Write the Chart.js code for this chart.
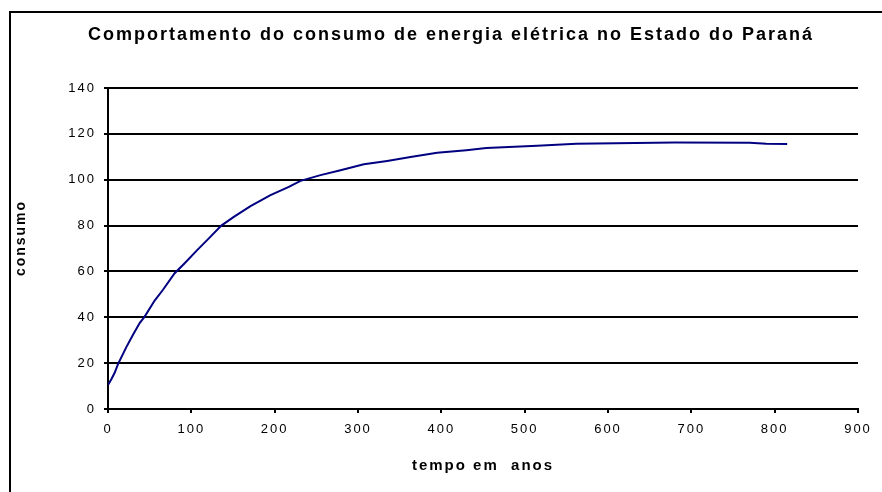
<!DOCTYPE html>
<html>
<head>
    <title>Consumo de energia elétrica - Paraná</title>
    <script src="https://cdn.jsdelivr.net/npm/chart.js@4.4.0/dist/chart.umd.min.js"></script>
    <style>
        body { margin: 0; background: #fff; }
    </style>
</head>
<body>
    <canvas id="consumoChart" width="882" height="492"></canvas>

    <script>
        // dados
        const titulo = 'Comportamento do consumo de energia elétrica no Estado do Paraná';
        const rotuloX = 'tempo em  anos';
        const rotuloY = 'consumo';
        const anos = [0, 4, 8, 12, 22, 30, 38, 44, 56, 66, 80, 92, 107, 121, 136, 151, 171, 195, 217, 231, 255, 279, 307, 335, 363, 395, 430, 454, 515, 562, 680, 770, 790, 815];
        const consumo = [10.5, 13, 15.8, 19.6, 27, 32.4, 37.5, 40.3, 47.3, 52, 59.2, 63.6, 69.3, 74.4, 80, 83.8, 88.5, 93.3, 96.9, 99.5, 102, 104.1, 106.7, 108.2, 109.9, 111.8, 112.9, 113.8, 114.8, 115.7, 116.2, 116.1, 115.7, 115.6];
        const ticksX = [0, 100, 200, 300, 400, 500, 600, 700, 800, 900];
        const ticksY = [0, 20, 40, 60, 80, 100, 120, 140];

        const fonte = '"Liberation Sans", Arial, sans-serif';

        // moldura externa, espacamento das letras e titulo vertical
        const moldura = {
            id: 'moldura',
            beforeDraw(chart) {
                chart.ctx.letterSpacing = '2px';
            },
            afterDraw(chart) {
                const ctx = chart.ctx;
                ctx.save();
                ctx.strokeStyle = '#000';
                ctx.lineWidth = 2;
                ctx.strokeRect(10, 12, 900, 500);
                ctx.translate(21, 238);
                ctx.rotate(-Math.PI / 2);
                ctx.font = 'bold 14px ' + fonte;
                ctx.textAlign = 'center';
                ctx.textBaseline = 'middle';
                ctx.fillStyle = '#000';
                ctx.fillText(rotuloY, 0, 0);
                ctx.restore();
            }
        };

        const pontos = anos.map((a, i) => ({ x: a, y: consumo[i] }));

        const ctx = document.getElementById('consumoChart').getContext('2d');
        const chart = new Chart(ctx, {
            type: 'line',
            data: {
                datasets: [{
                    label: rotuloY,
                    data: pontos,
                    borderColor: '#000080',
                    borderWidth: 2,
                    pointRadius: 0,
                    tension: 0,
                    fill: false
                }]
            },
            options: {
                responsive: false,
                animation: false,
                devicePixelRatio: 1,
                layout: { padding: { left: 44, right: 24, top: 0, bottom: 0 } },
                plugins: {
                    legend: { display: false },
                    tooltip: { enabled: false },
                    title: {
                        display: true,
                        text: titulo,
                        color: '#000',
                        font: { family: fonte, size: 18, weight: 'bold' },
                        padding: { top: 24.2, bottom: 42.2 }
                    }
                },
                scales: {
                    x: {
                        type: 'linear',
                        min: 0,
                        max: 900,
                        afterFit: s => { s.height = 83; },
                        afterBuildTicks: s => { s.ticks = ticksX.map(v => ({ value: v })); },
                        grid: { drawOnChartArea: false, drawTicks: true, tickLength: 4, color: '#000', lineWidth: 2 },
                        border: { color: '#000', width: 2 },
                        ticks: {
                            color: '#000',
                            autoSkip: false,
                            maxRotation: 0,
                            padding: 9,
                            font: { family: fonte, size: 13 }
                        },
                        title: {
                            display: true,
                            text: rotuloX,
                            color: '#000',
                            font: { family: fonte, size: 15, weight: 'bold' },
                            padding: { top: 0, bottom: 17 }
                        }
                    },
                    y: {
                        min: 0,
                        max: 140,
                        afterFit: s => { s.width = 64; },
                        afterBuildTicks: s => { s.ticks = ticksY.map(v => ({ value: v })); },
                        grid: { color: '#000', lineWidth: 2, tickLength: 4 },
                        border: { color: '#000', width: 2 },
                        ticks: {
                            color: '#000',
                            padding: 8,
                            font: { family: fonte, size: 13 }
                        }
                    }
                }
            },
            plugins: [moldura]
        });
    </script>
</body>
</html>
